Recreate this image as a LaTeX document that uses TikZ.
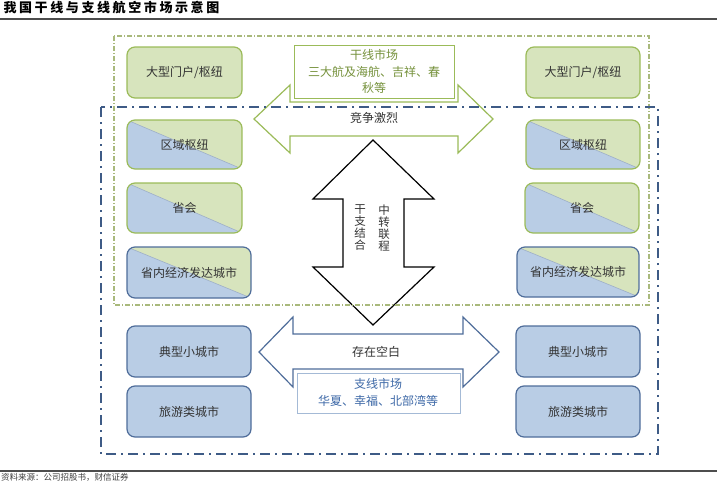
\documentclass[tikz,border=0pt]{standalone}
\usepackage{fontspec}
\setmainfont{Noto Sans CJK SC}
\newfontfamily\titlefont[LetterSpace=20]{Noto Sans CJK SC}
\usepackage{tikz}

\definecolor{lgreen}{HTML}{D7E4BD}
\definecolor{dgreen}{HTML}{9BBB59}
\definecolor{lblue}{HTML}{B9CDE5}
\definecolor{dblue}{HTML}{4F6D9A}
\definecolor{tgreen}{HTML}{76923C}
\definecolor{tblue}{HTML}{3F6AA8}
\definecolor{frameblue}{HTML}{3E5B86}
\definecolor{framegreen}{HTML}{A9B97C}
\definecolor{rulegray}{HTML}{4D4D4D}

\tikzset{
  boxtext/.style={font=\fontsize{12}{14}\selectfont, text=black!80},
  greenbox/.style={draw=dgreen, fill=lgreen, line width=1.2pt, rounded corners=8pt},
  bluebox/.style={draw=dblue, fill=lblue, line width=1.2pt, rounded corners=8pt},
  bigarrow/.style={fill=white, line width=1.2pt, line join=miter},
}

\begin{document}
\begin{tikzpicture}[x=1pt, y=-1pt]
    \useasboundingbox (0,0) rectangle (717,482);

    % title and rules
    \node [anchor=west, font=\titlefont\bfseries\fontsize{13}{15}\selectfont] (title) at (0,8) {我国干线与支线航空市场示意图};
    \draw [rulegray, line width=2pt] (0,19) -- (717,19);
    \draw [rulegray, line width=1.5pt] (0,471) -- (717,471);
    \node [anchor=north west, inner sep=0pt, font=\fontsize{8.5}{10}\selectfont, text=black!75] (source) at (1,473) {资料来源：公司招股书，财信证券};

    % arrows
    \draw [bigarrow, draw=dgreen] (254,119) -- (290,85) -- (290,102) -- (458,102) -- (458,85) -- (493,119)
        -- (458,153) -- (458,136) -- (290,136) -- (290,153) -- cycle;
    \draw [bigarrow, draw=dblue] (259,352) -- (293,317) -- (293,334) -- (463,334) -- (463,317) -- (499,352)
        -- (463,387) -- (463,369) -- (293,369) -- (293,387) -- cycle;
    \draw [bigarrow, draw=black] (373,140) -- (434,199) -- (404,199) -- (404,267) -- (434,267) -- (373,325)
        -- (313,267) -- (343,267) -- (343,199) -- (313,199) -- cycle;
    \node [boxtext] (fight) at (374,118) {竞争激烈};
    \node [boxtext] (blank) at (376,352) {存在空白};
    \node [boxtext, align=center, font=\fontsize{11.5}{12}\selectfont] (mix) at (360,228) {干\\支\\结\\合};
    \node [boxtext, align=center, font=\fontsize{11.5}{12}\selectfont] (transfer) at (384,228) {中\\转\\联\\程};

    % market boxes
    \draw [draw=dgreen, fill=white, line width=1pt] (294,45) rectangle (454,98);
    \node [align=center, text=tgreen, font=\fontsize{12}{16.5}\selectfont] (trunk) at (374,71.5) {干线市场\\三大航及海航、吉祥、春\\秋等};
    \draw [draw=lblue!80!dblue, fill=white, line width=1pt] (297,373) rectangle (460,413);
    \node [align=center, text=tblue, font=\fontsize{12}{17}\selectfont] (branch) at (378,392) {支线市场\\华夏、幸福、北部湾等};

    % plain boxes
    \draw [greenbox] (127,47) rectangle (242,98);
    \node [boxtext] (hubL) at (184.5,72.5) {大型门户/枢纽};
    \draw [greenbox] (526,47) rectangle (640,98);
    \node [boxtext] (hubR) at (583,72.5) {大型门户/枢纽};
    \draw [bluebox] (127,326) rectangle (251,377);
    \node [boxtext] (smallL) at (189,351.5) {典型小城市};
    \draw [bluebox] (127,386) rectangle (251,437);
    \node [boxtext] (tourL) at (189,411.5) {旅游类城市};
    \draw [bluebox] (516,326) rectangle (640,377);
    \node [boxtext] (smallR) at (578,351.5) {典型小城市};
    \draw [bluebox] (516,386) rectangle (640,437);
    \node [boxtext] (tourR) at (578,411.5) {旅游类城市};

    % half green, half blue boxes
    \foreach \xa/\ya/\xb/\yb/\edge/\name/\label in {
        127/120/242/169/dgreen/regL/区域枢纽,
        526/120/640/169/dgreen/regR/区域枢纽,
        127/183/242/233/dgreen/capL/省会,
        525/183/639/233/dgreen/capR/省会,
        127/247/251/298/dblue/richL/省内经济发达城市,
        517/247/639/297/dblue/richR/省内经济发达城市} {
        \begin{scope}
            \clip [rounded corners=8pt] (\xa,\ya) rectangle (\xb,\yb);
            \fill [lgreen] (\xa,\ya) rectangle (\xb,\yb);
            \fill [lblue] (\xa,\ya) -- (\xb,\yb) -- (\xa,\yb) -- cycle;
            \draw [dblue!55, line width=0.6pt] (\xa,\ya) -- (\xb,\yb);
        \end{scope}
        \draw [draw=\edge, line width=1.2pt, rounded corners=8pt] (\xa,\ya) rectangle (\xb,\yb);
        \node [boxtext] (\name) at ({(\xa+\xb)/2},{(\ya+\yb)/2}) {\label};
    }

    % market frames
    \draw [framegreen, line width=1.1pt, dash pattern=on 5pt off 2pt on 1pt off 2pt] (114,36) rectangle (649,305);
    \draw [frameblue, line width=2.5pt, dash pattern=on 10pt off 5pt on 2pt off 5pt] (101,107) rectangle (658,454);
\end{tikzpicture}
\end{document}
